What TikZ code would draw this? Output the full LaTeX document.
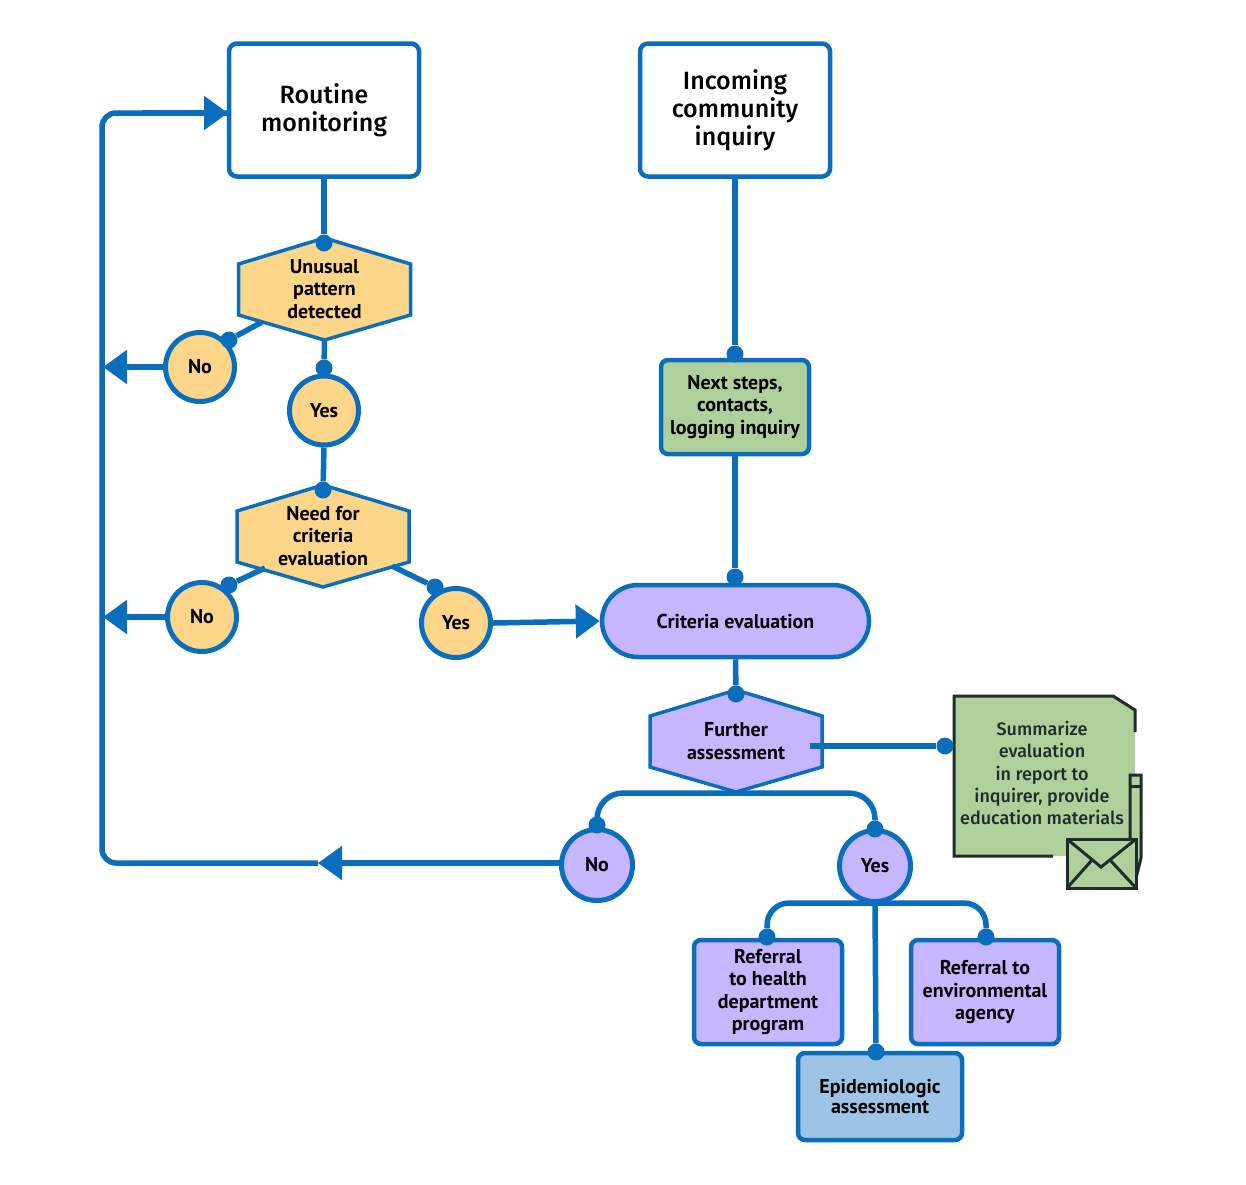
\documentclass[tikz,border=0pt]{standalone}
\usepackage{fontspec}
\setmainfont{PT Sans}
\newfontfamily\medfont{Fira Sans Medium}
\usetikzlibrary{arrows.meta}
\definecolor{linkblue}{HTML}{0A6EBD}
\definecolor{hexyellow}{HTML}{FDD68A}
\definecolor{boxpurple}{HTML}{C6B5FF}
\definecolor{boxgreen}{HTML}{AFD09B}
\definecolor{boxblue}{HTML}{9DC3E6}
\definecolor{inkdark}{HTML}{1E2D2B}
\tikzset{
  link/.style={line width=5.5pt,draw=linkblue},
  headlink/.style={link,-{Triangle[length=24pt,width=33pt]}},
  dot/.style={circle,fill=linkblue,inner sep=0pt,minimum size=17pt},
  topbox/.style={draw=linkblue,line width=4.5pt,rounded corners=8pt,fill=white,align=center,font=\fontsize{25}{28}\medfont,text=black},
  stepbox/.style={draw=linkblue,line width=4.5pt,rounded corners=7pt,align=center,font=\fontsize{20}{22.4}\bfseries,text=black,minimum width=148pt},
  answer/.style={circle,draw=linkblue,line width=5pt,minimum size=69pt,inner sep=0pt,font=\fontsize{20}{22.4}\bfseries,text=black},
  hextext/.style={minimum width=172pt,minimum height=102pt,inner sep=0pt,align=center,font=\fontsize{20}{22.4}\bfseries,text=black},
  hexline/.style={draw=linkblue,line width=3.5pt,line join=miter},
  doctext/.style={align=center,font=\fontsize{18}{22.2}\medfont,text=inkdark},
  inkline/.style={draw=inkdark,line width=3pt}
}
\newcommand{\hexbox}[5]{
  \filldraw[hexline,fill=#2] (#3-86,#4-25) -- (#3,#4-51) -- (#3+86,#4-25) -- (#3+86,#4+26) -- (#3,#4+51) -- (#3-86,#4+26) -- cycle;
  \node[hextext] (#1) at (#3,#4) {#5};
}
\begin{document}
\begin{tikzpicture}[x=1pt,y=-1pt]
    \useasboundingbox (0,0) rectangle (1246,1184);
    \node[topbox,minimum width=190pt,minimum height=133pt] (routine) at (324,110) {Routine\\monitoring};
    \node[topbox,minimum width=190pt,minimum height=133pt] (incoming) at (735,110) {Incoming\\community\\inquiry};
    \hexbox{unusual}{hexyellow}{324.5}{289}{Unusual\\pattern\\detected}
    \hexbox{need}{hexyellow}{323}{536}{Need for\\criteria\\evaluation}
    \node[answer,fill=hexyellow] (noA) at (200,367) {No};
    \node[answer,fill=hexyellow] (yesA) at (324,410.5) {Yes};
    \node[answer,fill=hexyellow] (noB) at (202,617) {No};
    \node[answer,fill=hexyellow] (yesB) at (456,623) {Yes};
    \node[stepbox,fill=boxgreen,minimum height=94pt] (nextsteps) at (735,407) {Next steps,\\contacts,\\logging inquiry};
    \node[stepbox,fill=boxpurple,minimum width=267pt,minimum height=72pt,rounded corners=36pt] (criteria) at (735.5,621) {Criteria evaluation};
    \hexbox{further}{boxpurple}{736}{741}{Further\\assessment}
    \node[answer,fill=boxpurple,minimum size=71pt] (noC) at (597,865) {No};
    \node[answer,fill=boxpurple,minimum size=71pt] (yesC) at (875,866) {Yes};
    \node[stepbox,fill=boxpurple,minimum height=104pt] (refhealth) at (768,992) {Referral\\to health\\department\\program};
    \node[stepbox,fill=boxpurple,minimum height=104pt] (refenv) at (985,992) {Referral to\\environmental\\agency};
    \node[stepbox,fill=boxblue,minimum width=164pt,minimum height=87pt,font=\fontsize{20}{20}\bfseries] (epi) at (880,1096.5) {Epidemiologic\\assessment};
    \filldraw[fill=boxgreen,draw=none] (954,696) -- (1113,696) -- (1135,710) -- (1135,856) -- (954,856) -- cycle;
    \draw[inkline] (1053,856) -- (954,856) -- (954,696) -- (1113,696) -- (1135,710) -- (1135,732);
    \node[doctext] (summary) at (1042,773) {Summarize\\evaluation\\in report to\\inquirer, provide\\education materials};
    \filldraw[inkline,fill=boxgreen] (1130,775) -- (1141,775) -- (1141,858) -- (1136,878) -- (1130,858) -- cycle;
    \draw[inkline] (1130,786) -- (1141,786);
    \filldraw[inkline,fill=boxgreen] (1067,839) rectangle (1136,888);
    \draw[inkline] (1067,839) -- (1101,867) -- (1136,839);
    \draw[inkline] (1067,888) -- (1092,860);
    \draw[inkline] (1136,888) -- (1110,860);
    \node[dot] (dotUnusual) at (324,243) {};
    \node[dot] (dotYesA) at (324,368) {};
    \node[dot] (dotNoA) at (229,340) {};
    \node[dot] (dotNeed) at (323,490) {};
    \node[dot] (dotNoB) at (229,585) {};
    \node[dot] (dotYesB) at (435,587) {};
    \node[dot] (dotNext) at (735,354) {};
    \node[dot] (dotCriteria) at (735,577) {};
    \node[dot] (dotFurther) at (736,694) {};
    \node[dot] (dotSummary) at (945,746) {};
    \node[dot] (dotNoC) at (597,825) {};
    \node[dot] (dotYesC) at (875,829) {};
    \node[dot] (dotHealth) at (767,937) {};
    \node[dot] (dotEnv) at (986,937) {};
    \node[dot] (dotEpi) at (876,1052) {};
    \coordinate (loopTop) at (102,113);
    \coordinate (loopBottom) at (102,863);
    \coordinate (routineIn) at (228,113);
    \coordinate (loopNoA) at (103,367);
    \coordinate (loopNoB) at (103,617);
    \coordinate (loopMid) at (318,863);
    \coordinate (noCOut) at (561,863);
    \coordinate (unusualNo) at (262,322);
    \coordinate (needNo) at (265,568);
    \coordinate (needYes) at (392,566);
    \coordinate (furtherOut) at (810,746);
    \coordinate (forkLeft) at (597,793);
    \coordinate (forkRight) at (875,793);
    \coordinate (splitLeft) at (767,903);
    \coordinate (splitRight) at (986,903);
    \draw[link] (routine.south) -- (dotUnusual);
    \draw[link] (unusual.south) -- (dotYesA);
    \draw[link] (unusualNo) -- (dotNoA);
    \draw[link] (yesA.south) -- (dotNeed);
    \draw[link] (needNo) -- (dotNoB);
    \draw[link] (needYes) -- (dotYesB);
    \draw[link] (incoming.south) -- (dotNext);
    \draw[link] (nextsteps.south) -- (dotCriteria);
    \draw[link] (criteria.south) -- (dotFurther);
    \draw[link] (furtherOut) -- (dotSummary);
    \draw[link,rounded corners=26pt] (dotNoC) -- (forkLeft) -- (forkRight) -- (dotYesC);
    \draw[link] (yesC.south) -- (dotEpi);
    \draw[link,rounded corners=22pt] (dotHealth) -- (splitLeft) -- (splitRight) -- (dotEnv);
    \draw[headlink] (noA.west) -- (loopNoA);
    \draw[headlink] (noB.west) -- (loopNoB);
    \draw[headlink] (yesB.east) -- (criteria.west);
    \draw[headlink] (noCOut) -- (loopMid);
    \draw[link,rounded corners=14pt] (loopMid) -- (loopBottom) -- (loopTop) -- (routineIn);
    \draw[headlink] (loopTop) ++(40,0) -- (routineIn);
\end{tikzpicture}
\end{document}
